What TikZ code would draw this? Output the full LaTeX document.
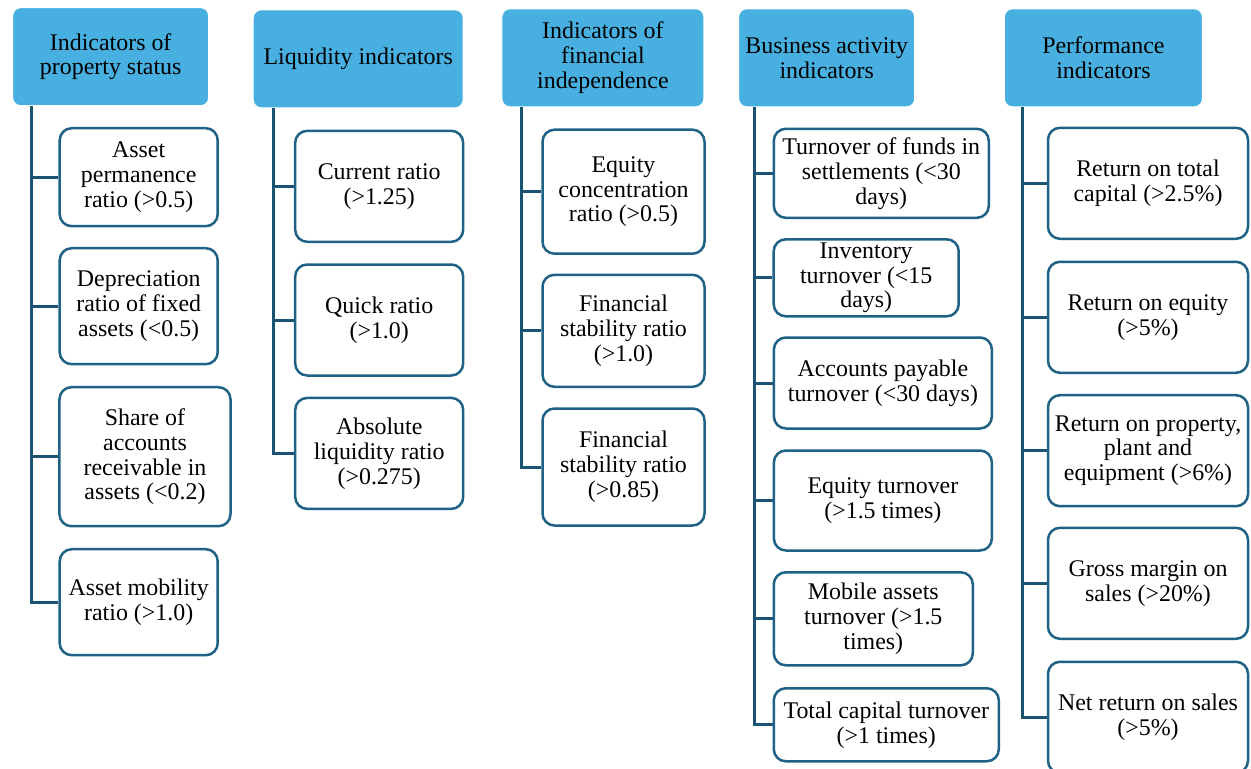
\documentclass[tikz,border=0pt]{standalone}
\usepackage{fontspec}
\setmainfont{Liberation Serif}
\definecolor{headfill}{RGB}{71,176,224}
\definecolor{boxline}{RGB}{31,98,133}
\definecolor{connline}{RGB}{27,84,114}
\tikzset{
  txt/.style={align=center, inner sep=0pt, font=\fontsize{24}{25}\selectfont},
  headbox/.style={txt, draw=white, line width=1bp, fill=headfill, rounded corners=8bp},
  childbox/.style={txt, draw=boxline, line width=2.5bp, fill=white, rounded corners=12bp},
  conn/.style={draw=connline, line width=3bp}
}
\begin{document}
\begin{tikzpicture}[x=1bp, y=-1bp]
\useasboundingbox (0,0) rectangle (1251,769);
% headers
\node[headbox, minimum width=196bp, minimum height=98bp] (h1) at (110.7,56.7) {Indicators of\\property status};
\node[headbox, minimum width=210bp, minimum height=98bp] (h2) at (358.2,58.8) {Liquidity indicators};
\node[headbox, minimum width=202bp, minimum height=98bp] (h3) at (602.9,57.8) {Indicators of\\financial\\independence};
\node[headbox, minimum width=176bp, minimum height=98bp] (h4) at (826.7,57.8) {Business activity\\indicators};
\node[headbox, minimum width=198bp, minimum height=98bp] (h5) at (1103.4,57.8) {Performance\\indicators};
% column 1
\node[childbox, minimum width=158bp, minimum height=98bp] (c11) at (138.7,177.2) {Asset\\permanence\\ratio (>0.5)};
\node[childbox, minimum width=158bp, minimum height=116bp] (c12) at (138.7,306.2) {Depreciation\\ratio of fixed\\assets (<0.5)};
\node[childbox, minimum width=171bp, minimum height=139bp] (c13) at (145,456.7) {Share of\\accounts\\receivable in\\assets (<0.2)};
\node[childbox, minimum width=158bp, minimum height=106bp] (c14) at (138.7,602.2) {Asset mobility\\ratio (>1.0)};
% column 2
\node[childbox, minimum width=168bp, minimum height=111bp] (c21) at (379.2,186.3) {Current ratio\\(>1.25)};
\node[childbox, minimum width=168bp, minimum height=111bp] (c22) at (379.2,320) {Quick ratio\\(>1.0)};
\node[childbox, minimum width=168bp, minimum height=111bp] (c23) at (379.2,453.4) {Absolute\\liquidity ratio\\(>0.275)};
% column 3
\node[childbox, minimum width=162bp, minimum height=124bp] (c31) at (623.5,191.7) {Equity\\concentration\\ratio (>0.5)};
\node[childbox, minimum width=162bp, minimum height=112bp] (c32) at (623.5,330.8) {Financial\\stability ratio\\(>1.0)};
\node[childbox, minimum width=162bp, minimum height=117bp] (c33) at (623.5,467) {Financial\\stability ratio\\(>0.85)};
% column 4
\node[childbox, minimum width=215bp, minimum height=89bp] (c41) at (881.3,173.3) {Turnover of funds in\\settlements (<30\\days)};
\node[childbox, minimum width=185bp, minimum height=77bp] (c42) at (866.2,277.8) {Inventory\\turnover (<15\\days)};
\node[childbox, minimum width=218bp, minimum height=91bp] (c43) at (882.9,383) {Accounts payable\\turnover (<30 days)};
\node[childbox, minimum width=218bp, minimum height=100bp] (c44) at (882.9,500.5) {Equity turnover\\(>1.5 times)};
\node[childbox, minimum width=199bp, minimum height=93bp] (c45) at (873.3,618.8) {Mobile assets\\turnover (>1.5\\times)};
\node[childbox, minimum width=225bp, minimum height=73bp] (c46) at (886.3,724.8) {Total capital turnover\\(>1 times)};
% column 5
\node[childbox, minimum width=200bp, minimum height=111bp] (c51) at (1148,183.3) {Return on total\\capital (>2.5\%)};
\node[childbox, minimum width=200bp, minimum height=111bp] (c52) at (1148,317.3) {Return on equity\\(>5\%)};
\node[childbox, minimum width=200bp, minimum height=111bp] (c53) at (1148,450.7) {Return on property,\\plant and\\equipment (>6\%)};
\node[childbox, minimum width=200bp, minimum height=111bp] (c54) at (1148,583.3) {Gross margin on\\sales (>20\%)};
\node[childbox, minimum width=200bp, minimum height=111bp] (c55) at (1148,717.3) {Net return on sales\\(>5\%)};
% connectors
\foreach \c in {c11,c12,c13,c14} \draw[conn] ([xshift=19.4bp]h1.south west) |- (\c.west);
\foreach \c in {c21,c22,c23} \draw[conn] ([xshift=20.3bp]h2.south west) |- (\c.west);
\foreach \c in {c31,c32,c33} \draw[conn] ([xshift=20bp]h3.south west) |- (\c.west);
\foreach \c in {c41,c42,c43,c44,c45,c46} \draw[conn] ([xshift=16.7bp]h4.south west) |- (\c.west);
\foreach \c in {c51,c52,c53,c54,c55} \draw[conn] ([xshift=18.7bp]h5.south west) |- (\c.west);
\end{tikzpicture}
\end{document}
